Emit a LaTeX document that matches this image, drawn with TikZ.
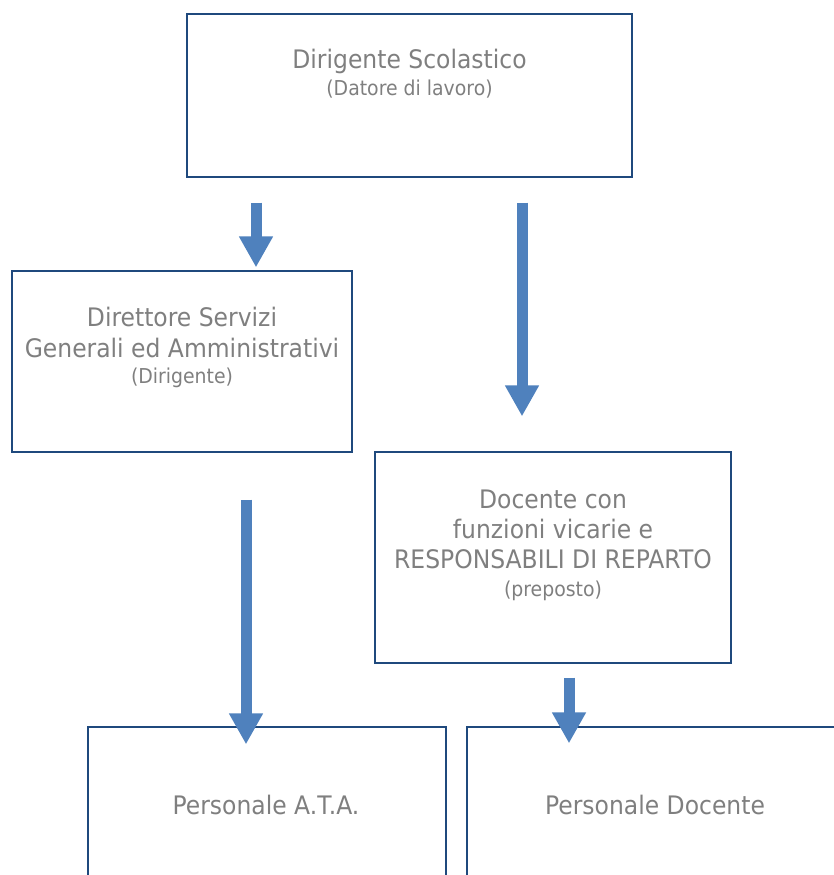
\documentclass[tikz,border=0pt]{standalone}
\usepackage{fontspec}
\setmainfont{DejaVu Sans}[FakeStretch=0.92]
\usetikzlibrary{arrows.meta}
\definecolor{frame}{HTML}{1F497D}
\definecolor{txt}{HTML}{7F7F7F}
\definecolor{arr}{HTML}{4F81BD}
\begin{document}
\begin{tikzpicture}[x=1pt,y=-1pt,
  box/.style={draw=frame,line width=1.3pt,rectangle,inner sep=0pt},
  big/.style={text=txt,font=\fontsize{25.5}{30}\selectfont,anchor=base,inner sep=0pt},
  small/.style={text=txt,font=\fontsize{20.5}{24}\selectfont,anchor=base,inner sep=0pt},
  blk/.style={draw=arr,line width=11pt,-{Triangle[width=32pt,length=31pt]}}]
\useasboundingbox (0,0) rectangle (834,875);
\clip (0,0) rectangle (834,875);
% boxes
\node[box,minimum width=445pt,minimum height=163pt] (b1) at (409.5,95.5) {};
\node[box,minimum width=340pt,minimum height=181pt] (b2) at (182,361.5) {};
\node[box,minimum width=356pt,minimum height=211pt] (b3) at (553,557.5) {};
\node[box,minimum width=358pt,minimum height=173pt] (b4) at (267,813.5) {};
\node[box,minimum width=376pt,minimum height=173pt] (b5) at (655,813.5) {};
% texts
\node[big]   (t1a) at (409.5,69) {Dirigente Scolastico};
\node[small] (t1b) at (409.5,95) {(Datore di lavoro)};
\node[big]   (t2a) at (182,326) {Direttore Servizi};
\node[big]   (t2b) at (182,357) {Generali ed Amministrativi};
\node[small] (t2c) at (182,383) {(Dirigente)};
\node[big]   (t3a) at (553,508) {Docente con};
\node[big]   (t3b) at (553,538) {funzioni vicarie e};
\node[big]   (t3c) at (553,568) {RESPONSABILI DI REPARTO};
\node[small] (t3d) at (553,596) {(preposto)};
\node[big]   (t4)  at (266,814) {Personale A.T.A.};
\node[big]   (t5)  at (655,814) {Personale Docente};
% arrows
\draw[blk] ([xshift=-153.5pt,yshift=-25pt]b1.south) -- ([xshift=74pt,yshift=3pt]b2.north);
\draw[blk] ([xshift=112.5pt,yshift=-25pt]b1.south) -- ([xshift=-31pt,yshift=35pt]b3.north);
\draw[blk] ([xshift=64pt,yshift=-47pt]b2.south) -- ([xshift=-21pt,yshift=-18pt]b4.north);
\draw[blk] ([xshift=16pt,yshift=-14pt]b3.south) -- ([xshift=-86pt,yshift=-17pt]b5.north);
\end{tikzpicture}
\end{document}
